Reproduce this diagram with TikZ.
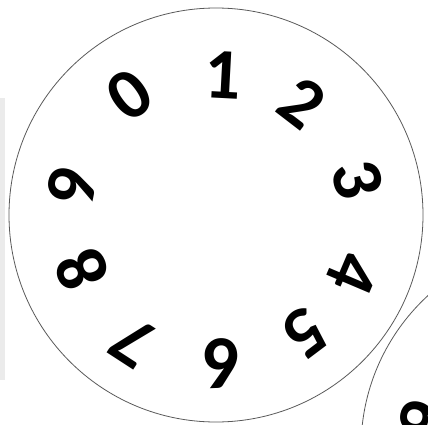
\documentclass[tikz,border=0pt]{standalone}
\usepackage{fontspec}
\setmainfont{Carlito}
\usetikzlibrary{calc}
\begin{document}
\begin{tikzpicture}[x=1pt,y=1pt,
  wheel/.style={draw=black!65, line width=0.8pt},
  digit/.style={font=\bfseries\fontsize{72}{72}\selectfont, inner sep=0pt, anchor=center}]
\useasboundingbox (0,0) rectangle (428,424);
\clip (0,0) rectangle (428,424);
\fill[black!8] (0,44) rectangle (5,326);
\coordinate (c1) at (216,209);
\coordinate (c2) at (568,-24);
\draw[wheel] (c1) circle[radius=207];
\draw[wheel] (c2) circle[radius=207];
\foreach \d/\dx/\dy/\a in {1/7/140/87, 2/86/112/52.5, 3/142/35/14, 4/137/-58/-23, 5/89/-118/-53, 6/6/-148/-88, 7/-83/-127/-123, 8/-134/-55/-158, 9/-144/28/169, 0/-86/120/126}{
  \node[digit, rotate=\a-90] (d\d) at ($(c1)+(\dx,\dy)$) {\d};
}
\node[digit, rotate=79] (e9) at ($(c2)+(-144,28)$) {9};
\end{tikzpicture}
\end{document}
